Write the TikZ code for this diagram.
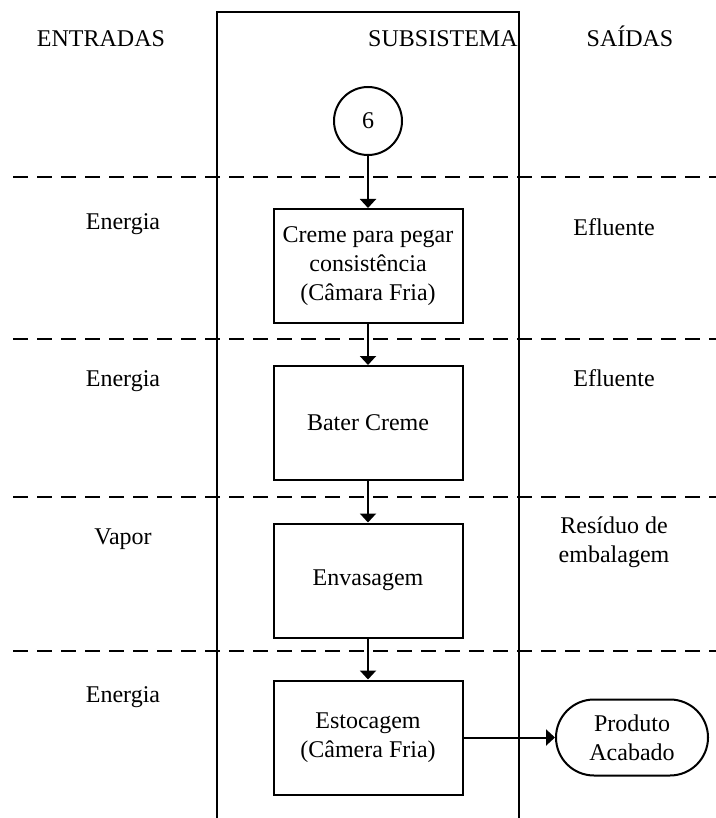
\documentclass[tikz,border=0pt]{standalone}
\usepackage{fontspec}
\setmainfont{Liberation Serif}
\usetikzlibrary{arrows.meta}
\begin{document}
\begin{tikzpicture}[x=0.5pt,y=-0.5pt,
  font=\fontsize{12pt}{14.5pt}\selectfont,
  every node/.style={align=center, inner sep=0pt},
  procbox/.style={draw, line width=1pt, minimum width=94.5pt, minimum height=57pt},
  connector/.style={draw, circle, line width=1pt, minimum size=34pt},
  terminal/.style={draw, line width=1pt, rounded corners=19pt, minimum width=76pt, minimum height=38pt},
  flow/.style={line width=1pt, -{Triangle[width=8pt,length=4.5pt]}},
  divider/.style={line width=1pt, dash pattern=on 7.5pt off 4.5pt},
  label/.style={anchor=base}]
\useasboundingbox (0,0) rectangle (716,818);

% subsystem column
\draw[line width=1pt] (217,818) -- (217,12) -- (519,12) -- (519,818);

% stage dividers
\foreach \yy/\nm in {177/d1,339/d2,497/d3,651/d4}
  \draw[divider] (13,\yy) coordinate (\nm a) -- (716,\yy) coordinate (\nm b);

% column headers
\node[label] (hin)  at (101,47) {ENTRADAS};
\node[label, anchor=base east] (hsub) at (518,47) {SUBSISTEMA};
\node[label] (hout) at (630,47) {SAÍDAS};

% flow
\node[connector] (c6) at (368,121) {6};
\node[procbox] (b1) at (368,266) {Creme para pegar\\consistência\\(Câmara Fria)};
\node[procbox] (b2) at (368,423) {Bater Creme};
\node[procbox] (b3) at (368,580.5) {Envasagem};
\node[procbox] (b4) at (368,737.5) {Estocagem\\(Câmera Fria)};
\node[terminal] (pa) at (632,737.5) {Produto\\Acabado};

\draw[flow] (c6) -- (b1);
\draw[flow] (b1) -- (b2);
\draw[flow] (b2) -- (b3);
\draw[flow] (b3) -- (b4);
\draw[flow] (b4) -- (pa);

% inputs
\node[label] (in1) at (123,229) {Energia};
\node[label] (in2) at (123,386) {Energia};
\node[label] (in3) at (123,544) {Vapor};
\node[label] (in4) at (123,702) {Energia};

% outputs
\node[label] (out1) at (614,235) {Efluente};
\node[label] (out2) at (614,386) {Efluente};
\node (out3) at (614,542) {Resíduo de\\embalagem};
\end{tikzpicture}
\end{document}
